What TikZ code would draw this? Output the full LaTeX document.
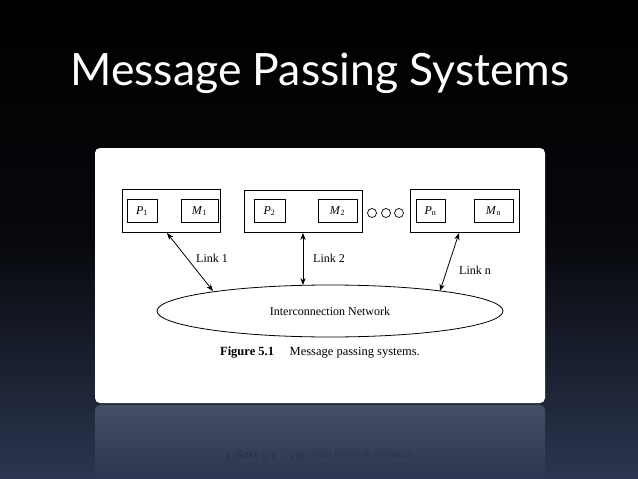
\documentclass[tikz,border=0pt]{standalone}
\usepackage{fontspec}
\setmainfont{Liberation Serif}
\newfontfamily\titlefont{Lato}
\usetikzlibrary{shapes.geometric,arrows.meta}
\definecolor{bgbot}{HTML}{2C3650}
\newcommand{\lab}[2]{\textit{#1}\textsubscript{#2}}
\tikzset{
  outer/.style={draw,line width=0.8pt},
  inner/.style={draw,line width=0.7pt,minimum width=30pt,minimum height=23pt,inner sep=0pt,font=\fontsize{12}{14}\selectfont},
  link/.style={line width=0.8pt,{Stealth[length=7pt]}-{Stealth[length=7pt]}},
  lbl/.style={font=\fontsize{12}{14}\selectfont},
  dot/.style={circle,draw,line width=0.7pt,minimum size=9pt,inner sep=0pt}
}
\begin{document}
\begin{tikzpicture}[x=1pt,y=-1pt]
\shade[top color=black,bottom color=bgbot,middle color=black!85!bgbot] (0,0) rectangle (638,479);
\useasboundingbox (0,0) rectangle (638,479);
\node[text=white,font=\titlefont\fontsize{44.5}{50}\selectfont] (title) at (320,73) {Message Passing Systems};
% reflection
\shade[top color=white!12!bgbot,bottom color=bgbot,rounded corners=5pt] (95,405) rectangle (545,479);
\node[opacity=0.15,yscale=-1,font=\fontsize{12}{14}\selectfont] (refl) at (320,455) {\textbf{Figure 5.1}\quad Message passing systems.};
% card
\fill[white,rounded corners=5pt] (95,148) rectangle (545,403);
\node[outer,minimum width=98pt,minimum height=43pt] (b1) at (171,210.5) {};
\node[outer,minimum width=118pt,minimum height=42pt] (b2) at (303,211) {};
\node[outer,minimum width=109pt,minimum height=43pt] (b3) at (464.5,210.5) {};
\node[inner] (p1) at (142,211) {\lab{P}{1}};
\node[inner,minimum width=37pt] (m1) at (199.5,211) {\lab{M}{1}};
\node[inner,minimum width=31pt] (p2) at (269.5,211) {\lab{P}{2}};
\node[inner,minimum width=39pt] (m2) at (337.5,211) {\lab{M}{2}};
\node[inner,minimum width=29pt] (pn) at (430.5,211) {\lab{P}{n}};
\node[inner,minimum width=39pt] (mn) at (493.5,211) {\lab{M}{n}};
\node[dot] (d1) at (372,213) {};
\node[dot] (d2) at (386,213) {};
\node[dot] (d3) at (399,213) {};
\node[ellipse,draw,line width=0.8pt,minimum width=346pt,minimum height=52pt,inner sep=0pt,font=\fontsize{12}{14}\selectfont] (net) at (330,311) {Interconnection Network};
\coordinate (a1) at (167,233);
\coordinate (e1) at (213,291);
\coordinate (a2) at (303,233);
\coordinate (e2) at (303,285);
\coordinate (a3) at (459,233);
\coordinate (e3) at (440,291);
\draw[link] (a1) -- (e1);
\draw[link] (a2) -- (e2);
\draw[link] (a3) -- (e3);
\node[lbl] (l1) at (212,258) {Link 1};
\node[lbl] (l2) at (329,258) {Link 2};
\node[lbl] (ln) at (475,270) {Link n};
\node[font=\fontsize{12.5}{14}\selectfont] (cap) at (320,353) {\textbf{Figure 5.1}\quad\ Message passing systems.};
\end{tikzpicture}
\end{document}
